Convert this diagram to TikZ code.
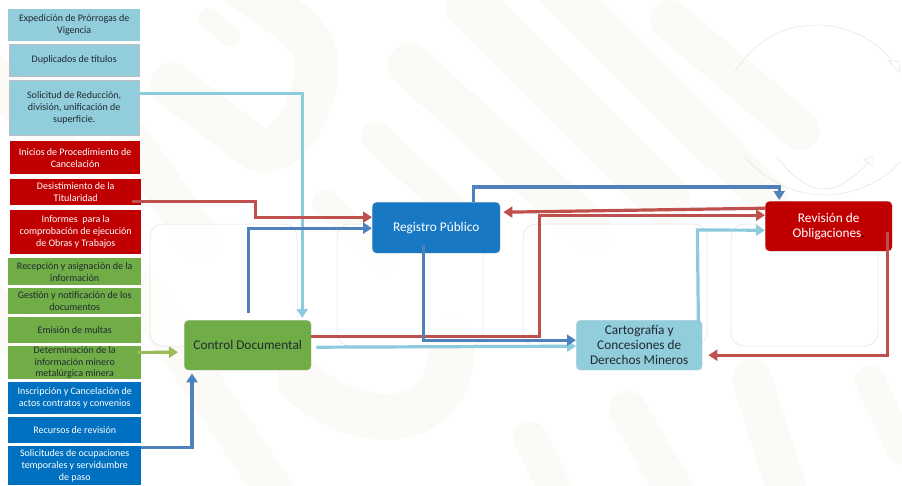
\documentclass[tikz,border=0pt]{standalone}
\usepackage{fontspec}
\setmainfont{Carlito}
\usetikzlibrary{arrows.meta}

\tikzset{
	smallbox/.style = {minimum width = #1, inner sep = 0pt, align = center, anchor = north west, font = \fontsize{10}{11.9}\selectfont},
	mainbox/.style = {rounded corners = 4pt, minimum width = 127pt, minimum height = 50pt, inner sep = 0pt, align = center, anchor = north west, draw = black!12, font = \fontsize{13.3}{14.8}\selectfont},
	link/.style = {line width = 3.2pt, -{Triangle[length = 9pt, width = 11pt]}},
	ring/.style = {black!13, line width = 0.4pt, double = white, double distance = 5pt}
}

\definecolor{skyfill}{HTML}{92CDDC}
\definecolor{redfill}{HTML}{C00000}
\definecolor{greenfill}{HTML}{70AD47}
\definecolor{bluefill}{HTML}{0070C0}
\definecolor{regfill}{HTML}{1878C4}
\definecolor{bluelink}{HTML}{4F81BD}
\definecolor{redlink}{HTML}{C0504D}
\definecolor{skylink}{HTML}{8CCBDD}
\definecolor{greenlink}{HTML}{9BBB59}
\definecolor{wash}{HTML}{FCFAF6}
\definecolor{darktext}{HTML}{1F2A30}

\begin{document}
\begin{tikzpicture}[x = 1pt, y = -1pt]

	\useasboundingbox (0, 0) rectangle (902, 485);

	% Faint background bands

	\begin{scope}[wash, line cap = round, line join = round]

		\clip (0, 0) rectangle (902, 485);
		\draw [line width = 20pt] (208, 18) -- (230, 36);
		\draw [line width = 44pt] (172, 85) -- (255, 148) .. controls (290, 165) and (322, 90) .. (316, 60) .. controls (312, 30) and (280, 15) .. (240, -15);
		\draw [line width = 40pt] (-30, 50) -- (60, 150);
		\draw [line width = 40pt] (130, 140) -- (200, 240);
		\draw [line width = 44pt] (410, 65) -- (590, 230);
		\draw [line width = 50pt] (470, 5) -- (665, 200);
		\draw [line width = 44pt] (560, -10) -- (720, 150);
		\draw [line width = 30pt] (376, 137) -- (470, 225);
		\draw [line width = 26pt] (325, 202) -- (385, 260);
		\draw [line width = 40pt] (670, 20) -- (800, 130);
		\draw [line width = 40pt] (680, 110) -- (770, 200);
		\draw [line width = 40pt] (-20, 290) -- (110, 460);
		\draw [line width = 40pt] (140, 290) -- (280, 500);
		\draw [line width = 46pt] (300, 380) .. controls (350, 430) and (455, 440) .. (452, 340);
		\draw [line width = 34pt] (530, 438) -- (560, 500);
		\draw [line width = 38pt] (628, 410) -- (680, 500);
		\draw [line width = 40pt] (752, 380) -- (790, 500);
		\draw [line width = 30pt] (870, 380) -- (902, 450);

	\end{scope}

	% Outlined panels behind the diagram

	\begin{scope}[draw = black!12, fill = white, fill opacity = 0.8, line width = 0.5pt, rounded corners = 13pt]

		\filldraw (150, 224) rectangle (297, 346);
		\filldraw (337, 224) rectangle (483, 346);
		\filldraw (523, 224) rectangle (707, 346);
		\filldraw (731, 224) rectangle (878, 346);

	\end{scope}

	% Rings in the corner

	\begin{scope}[ring]

		\draw (735, 72) .. controls (755, 40) and (785, 25) .. (817, 25) .. controls (850, 25) and (878, 42) .. (893, 62);
		\draw (745, 157) .. controls (770, 185) and (800, 195) .. (825, 195) .. controls (855, 195) and (885, 180) .. (900, 162);
		\draw (777, 157) .. controls (790, 175) and (808, 189) .. (823, 189) .. controls (840, 189) and (858, 175) .. (868, 162);

	\end{scope}

	\draw [black!13, line width = 0.4pt, fill = white] (888, 60) -- (900, 62) -- (899, 72) -- cycle;
	\draw [black!13, line width = 0.4pt, fill = white] (864, 160) -- (873, 156) -- (873, 166) -- cycle;

	% Boxes on the left

	\begin{scope}[text = darktext]

		\node (expedicion) [smallbox = 132pt, minimum height = 32pt, fill = skyfill] at (8, 9) {Expedición de Prórrogas de\\Vigencia};
		\node (duplicados) [smallbox = 130pt, minimum height = 32pt, fill = skyfill, draw = black!25] at (9, 44) {Duplicados de títulos};
		\node (solicitud) [smallbox = 130pt, minimum height = 55pt, fill = skyfill, draw = black!25] at (9, 80) {Solicitud de Reducción,\\división, unificación de\\superficie.};

		\node (recepcion) [smallbox = 133pt, minimum height = 27pt, fill = greenfill] at (8, 258) {Recepción y asignación de la\\información};
		\node (gestion) [smallbox = 133pt, minimum height = 26pt, fill = greenfill] at (8, 288) {Gestión y notificación de los\\documentos};
		\node (multas) [smallbox = 133pt, minimum height = 26pt, fill = greenfill] at (8, 317) {Emisión de multas};
		\node (determinacion) [smallbox = 133pt, minimum height = 32pt, fill = greenfill] at (8, 346) {Determinación de la\\información minero\\metalúrgica minera};

	\end{scope}

	\node (inicios) [smallbox = 130pt, minimum height = 33pt, fill = redfill, text = white] at (10, 141) {Inicios de Procedimiento de\\Cancelación};
	\node (desistimiento) [smallbox = 131pt, minimum height = 26pt, fill = redfill, text = white] at (10, 179) {Desistimiento de la\\Titularidad};
	\node (informes) [smallbox = 131pt, minimum height = 44pt, fill = redfill, text = white] at (10, 210) {Informes\ \ para la\\comprobación de ejecución\\de Obras y Trabajos};

	\node (inscripcion) [smallbox = 133pt, minimum height = 32pt, fill = bluefill, text = white] at (8, 382) {Inscripción y Cancelación de\\actos contratos y convenios};
	\node (recursos) [smallbox = 133pt, minimum height = 26pt, fill = bluefill, text = white] at (8, 417) {Recursos de revisión};
	\node (ocupaciones) [smallbox = 133pt, minimum height = 39pt, fill = bluefill, text = white] at (8, 446) {Solicitudes de ocupaciones\\temporales y servidumbre\\de paso};

	% Main boxes

	\node (control) [mainbox, fill = greenfill, text = darktext] at (184, 320) {Control Documental};
	\node (registro) [mainbox, fill = regfill, text = white, minimum width = 128pt, minimum height = 51pt] at (372, 202) {Registro Público};
	\node (cartografia) [mainbox, fill = skyfill, text = darktext, minimum width = 126pt] at (576, 320) {Cartografía y\\Concesiones de\\Derechos Mineros};
	\node (revision) [mainbox, fill = redfill, text = white] at (765, 201) {Revisión de\\Obligaciones\textcolor{black}{.}};

	% Arrows into the main boxes

	\draw [link, skylink] ([yshift = 14.5pt] solicitud.east) -| ([xshift = 54.5pt, yshift = 2pt] control.north);
	\draw [link, redlink] ([xshift = -9pt, yshift = -9pt] desistimiento.east) -- ++(123, 0) |- ([yshift = 10.5pt] registro.west);
	\draw [link, bluelink] ([xshift = 0.5pt, yshift = 7pt] control.north) |- ([yshift = -0.5pt] registro.west);
	\draw [link, greenlink] ([xshift = -4pt, yshift = 10pt] determinacion.east) -- ([xshift = -6pt, yshift = -7pt] control.west);
	\draw [link, bluelink] ([yshift = 18.5pt] ocupaciones.east) -| ([xshift = 8pt, yshift = -3pt] control.south west);

	% Arrows out of the main boxes

	\draw [link, redlink] ([yshift = 9pt] control.east) -- ++(228, 0) |- ([yshift = 11pt] revision.west);
	\draw [link, skylink] ([xshift = 5pt, yshift = -2pt] control.east) -- ([yshift = -1pt] cartografia.west);
	\draw [link, bluelink] ([xshift = -13pt, yshift = 8pt] registro.south) |- ([yshift = 5pt] cartografia.west);
	\draw [link, bluelink] ([xshift = 37pt] registro.north) -- ++(0, -15) -| ([xshift = -49.5pt, yshift = 1pt] revision.north);
	\draw [link, redlink] ([yshift = 18pt] revision.west) -- ([xshift = 3pt, yshift = 15.5pt] registro.east);
	\draw [link, skylink] ([xshift = -4pt, yshift = -5pt] cartografia.north east) -- ++(-1, -95) -- ([yshift = -4pt] revision.west);
	\draw [link, redlink] ([xshift = -5pt, yshift = -6pt] revision.east) |- ([xshift = 6pt, yshift = -10pt] cartografia.east);

\end{tikzpicture}
\end{document}
